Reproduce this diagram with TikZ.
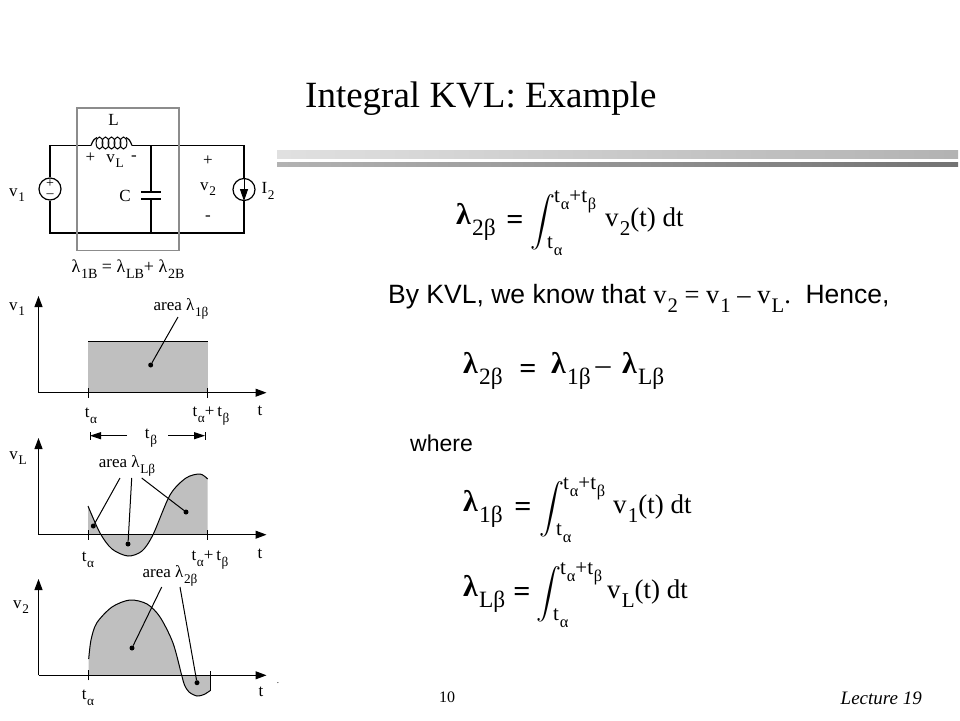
\documentclass[tikz,border=0pt]{standalone}
\usepackage{fontspec}
\setmainfont{Liberation Serif}
\newfontfamily\arialfont{Liberation Sans}
\usetikzlibrary{arrows.meta}
\newcommand{\lowsub}[1]{\kern.04em\raisebox{-.34em}{\scalebox{.78}{#1}}}
\newcommand{\tsub}[1]{t\lowsub{#1}}
\newcommand{\biglam}{{\bfseries λ}}
\begin{document}
\begin{tikzpicture}[x=1pt,y=-1pt]
  % some colors
  \colorlet{shadearea}{black!25!white}
  \colorlet{boxline}{black!45!white}
  % some styles
  \tikzset{
    lab/.style={inner sep=0pt,font=\fontsize{17}{17}\selectfont},
    small/.style={inner sep=0pt,font=\fontsize{17}{17}\selectfont},
    eqn/.style={inner sep=0pt,anchor=west,font=\fontsize{27}{27}\selectfont},
    lhs/.style={inner sep=0pt,anchor=west,font=\fontsize{30}{30}\selectfont},
    lim/.style={inner sep=0pt,anchor=west,font=\fontsize{21}{21}\selectfont},
    wire/.style={line width=1.2pt},
    axis/.style={line width=1pt,-{Triangle[length=11pt,width=8pt]}},
    lead/.style={line width=1pt},
    src/.style={draw,circle,line width=1.2pt,minimum size=22pt,inner sep=0pt,fill=white},
    dot/.style={circle,fill=black,minimum size=5pt,inner sep=0pt},
    tick/.style={line width=.8pt},
  }
  \useasboundingbox (0,0) rectangle (960,720);
  \fill[white] (0,0) rectangle (960,720);
  % title and bars
  \node[inner sep=0pt,anchor=base west,font=\fontsize{37}{37}\selectfont] (title) at (305,107) {Integral KVL: Example};
  \shade[left color=black!12,middle color=black!8,right color=black!30] (277,150) rectangle (958,158);
  \shade[left color=black!30,middle color=black!22,right color=black!55] (277,162) rectangle (958,166);
  % circuit
  \coordinate (tl) at (50,145.5);
  \coordinate (tr) at (244,145.5);
  \coordinate (bl) at (50,233);
  \coordinate (br) at (244,233);
  \coordinate (Lin) at (91,145.5);
  \coordinate (Lout) at (132,145.5);
  \coordinate (coilin) at (97,137.5);
  \coordinate (coilout) at (126,137.5);
  \coordinate (captop) at (151,145.5);
  \coordinate (capbot) at (151,233);
  \coordinate (capa) at (151,191.5);
  \coordinate (capb) at (151,198.5);
  \node[src,align=center,font=\fontsize{14}{10}\selectfont] (srcv) at (50,189) {+\\–};
  \node[src] (srci) at (244,189.5) {};
  \draw[wire] (srcv) -- (tl) -- (Lin);
  % five turns of the coil
  \draw[wire] (Lin) .. controls (93,140) and (95,138) .. (coilin);
  \foreach \i in {0,...,4} {
    \draw[line width=1pt] (99.5+6*\i,143) ellipse [x radius=3.4pt,y radius=6pt];
  }
  \draw[wire] (coilout) .. controls (128,138) and (130,140) .. (Lout);
  \draw[wire] (Lout) -- (tr) -- (srci);
  \draw[wire] (srci) -- (br) -- (bl) -- (srcv);
  \draw[wire] (captop) -- (capa);
  \draw[wire] (capb) -- (capbot);
  \draw[line width=2pt] ([xshift=-10pt]capa) -- ([xshift=10pt]capa);
  \draw[line width=2pt] ([xshift=-10pt]capb) -- ([xshift=10pt]capb);
  \draw[-{Triangle[length=12pt,width=8pt]},line width=1pt] (srci.north) -- (srci.south);
  \draw[boxline,line width=1.2pt] (77,108) rectangle (179,250.5);
  \node[lab] (Llab) at (113.5,120) {L};
  \node[lab] (vLp) at (90.5,158) {+};
  \node[lab] (vLlab) at (115,161) {v\lowsub{L}};
  \node[lab] (vLm) at (134,158) {-};
  \node[lab] (Clab) at (125,196) {C};
  \node[lab] (vtwop) at (208,161) {+};
  \node[lab] (vtwolab) at (208,189) {v\lowsub{2}};
  \node[lab] (vtwom) at (208,218) {-};
  \node[lab] (vonelab) at (17,195) {v\lowsub{1}};
  \node[lab] (Itwolab) at (268,191) {I\lowsub{2}};
  \node[inner sep=0pt,font=\fontsize{18}{18}\selectfont] (fluxeq) at (128,269) {λ\lowsub{1B} = λ\lowsub{LB}+ λ\lowsub{2B}};
  % shaded areas
  \fill[shadearea] (88,341) rectangle (207.7,392.7);
  \draw[line width=1pt] (88,341) -- (207.7,341);
  \fill[shadearea] (88,534.7) -- plot[smooth] coordinates {(88,506) (100,533) (112,549) (128,556) (142,551) (153,534.7) (170,495) (186,478) (200,474) (207.7,479)} -- (207.7,534.7) -- cycle;
  \draw[line width=1pt] plot[smooth] coordinates {(88,506) (100,533) (112,549) (128,556) (142,551) (153,534.7) (170,495) (186,478) (200,474) (207.7,479)};
  \fill[shadearea] (88.7,675.3) -- plot[smooth] coordinates {(88.7,659) (91,640) (96.7,623) (112,607) (130,600) (147,604) (160,617) (173,643) (181.7,675.3) (184.5,685) (189,692) (197,696) (204,694.5) (210,690.7)} -- (210,675.3) -- cycle;
  \draw[line width=1pt] plot[smooth] coordinates {(88.7,659) (91,640) (96.7,623) (112,607) (130,600) (147,604) (160,617) (173,643) (181.7,675.3) (184.5,685) (189,692) (197,696) (204,694.5) (210,690.7)};
  % axes of the three plots
  \foreach \plt/\ytop/\yaxis in {one/296/392.7,ell/438/534.7,two/579/675.3} {
    \coordinate (o-\plt) at (38.5,\yaxis);
    \coordinate (up-\plt) at (38.5,\ytop);
    \coordinate (t-\plt) at (266.5,\yaxis);
    \coordinate (ta-\plt) at (88,\yaxis);
    \draw[axis] (o-\plt) -- (up-\plt);
    \draw[axis] (o-\plt) -- (t-\plt);
    \draw[tick] ([yshift=-5pt]ta-\plt) -- ([yshift=5pt]ta-\plt);
  }
  \foreach \plt/\yaxis in {one/392.7,ell/534.7} {
    \coordinate (tb-\plt) at (207.7,\yaxis);
    \draw[tick] ([yshift=-5pt]tb-\plt) -- ([yshift=5pt]tb-\plt);
  }
  \coordinate (tend) at (210,671);
  \coordinate (tendb) at (210,690.7);
  \draw[tick] (tend) -- (tendb);
  % plot labels
  \node[lab] (lab-v1) at (17,309) {v\lowsub{1}};
  \node[lab] (lab-vL) at (18,458) {v\lowsub{L}};
  \node[lab] (lab-v2) at (21,607) {v\lowsub{2}};
  \node[small] (area-one) at (181,309) {area λ\lowsub{1β}};
  \node[small] (area-ell) at (127,466) {area λ\lowsub{Lβ}};
  \node[small] (area-two) at (170,576) {area λ\lowsub{2β}};
  \node[lab] (ta1) at (91,416) {\tsub{α}};
  \node[lab] (tab1) at (211,416) {\tsub{α}+\,\tsub{β}};
  \node[lab] (t1) at (260,411) {t};
  \node[lab] (ta2) at (88,560) {\tsub{α}};
  \node[lab] (tab2) at (210,560) {\tsub{α}+\,\tsub{β}};
  \node[lab] (t2) at (260,554) {t};
  \node[lab] (ta3) at (88,698) {\tsub{α}};
  \node[lab] (t3) at (261,692) {t};
  \node[lab] (tb) at (151,438) {\tsub{β}};
  % width of the pulse
  \coordinate (wl) at (90,435.7);
  \coordinate (wr) at (205,435.7);
  \coordinate (wli) at (127,435.7);
  \coordinate (wri) at (168,435.7);
  \draw[line width=1pt,-{Triangle[length=11pt,width=7pt]}] (wli) -- (wl);
  \draw[line width=1pt,-{Triangle[length=11pt,width=7pt]}] (wri) -- (wr);
  \draw[tick] ([yshift=-4pt]wl) -- ([yshift=4pt]wl);
  \draw[tick] ([yshift=-4pt]wr) -- ([yshift=4pt]wr);
  % dots and leaders
  \foreach \dotname/\xdot/\ydot/\xfrom/\yfrom in {
      a/150.7/365/178/317,
      b/93.3/526/120/478,
      c/128/544/131.7/478,
      d/186/512/141.7/478,
      e/132/648/161.7/587,
      f/197/682.7/180/587} {
    \node[dot] (dot-\dotname) at (\xdot,\ydot) {};
    \coordinate (from-\dotname) at (\xfrom,\yfrom);
    \draw[lead] (from-\dotname) -- (dot-\dotname);
  }
  \node[inner sep=0pt,font=\fontsize{9}{9}\selectfont] (speck) at (278,683) {.};
  % text on the right
  \node[inner sep=0pt,anchor=base west,font=\fontsize{26.5}{26.5}\selectfont] (kvl) at (388,303)
    {{\arialfont By KVL, we know that }v\lowsub{2} = v\lowsub{1} – v\lowsub{L}.{\arialfont\ \ Hence,}};
  \node[inner sep=0pt,anchor=base west,font=\arialfont\fontsize{23}{23}\selectfont] (wherelab) at (410,451.5) {where};
  % equations
  \node[lhs] (diff-a) at (463,371) {\biglam\lowsub{2β}};
  \node[lhs,anchor=center,font=\bfseries\fontsize{30}{30}\selectfont] (diff-eq) at (528,371) {=};
  \node[lhs] (diff-b) at (551,371) {\biglam\lowsub{1β}};
  \node[lhs,anchor=center] (diff-m) at (603,371) {–};
  \node[lhs] (diff-c) at (622,371) {\biglam\lowsub{Lβ}};
  \foreach \eqname/\xlhs/\ylhs/\lhstext/\xeq/\xint/\rhs/\xrhs in {
      two/456/222/\biglam\lowsub{2β}/515/543/v\lowsub{2}(t) dt/605,
      one/463/509/\biglam\lowsub{1β}/523/552/v\lowsub{1}(t) dt/613,
      ell/463/594/\biglam\lowsub{Lβ}/522/549/v\lowsub{L}(t) dt/607} {
    \node[lhs] (lhs-\eqname) at (\xlhs,\ylhs) {\lhstext};
    \node[lhs,anchor=center,font=\bfseries\fontsize{30}{30}\selectfont] (eq-\eqname) at (\xeq,\ylhs) {=};
    \node[inner sep=0pt] (int-\eqname) at (\xint,\ylhs) {\scalebox{2.5}{$\displaystyle\int$}};
    \node[lim] (upper-\eqname) at ([xshift=11pt,yshift=20pt]int-\eqname.center) {\tsub{α}+\tsub{β}};
    \node[lim] (lower-\eqname) at ([xshift=4pt,yshift=-24pt]int-\eqname.center) {\tsub{α}};
    \node[eqn] (rhs-\eqname) at (\xrhs,\ylhs) {\rhs};
  }
  % footer
  \node[inner sep=0pt,font=\fontsize{16}{16}\selectfont] (pagenum) at (447,697) {10};
  \node[inner sep=0pt,anchor=east,font=\itshape\fontsize{19}{19}\selectfont] (lect) at (922,698) {Lecture 19};
\end{tikzpicture}
\end{document}
